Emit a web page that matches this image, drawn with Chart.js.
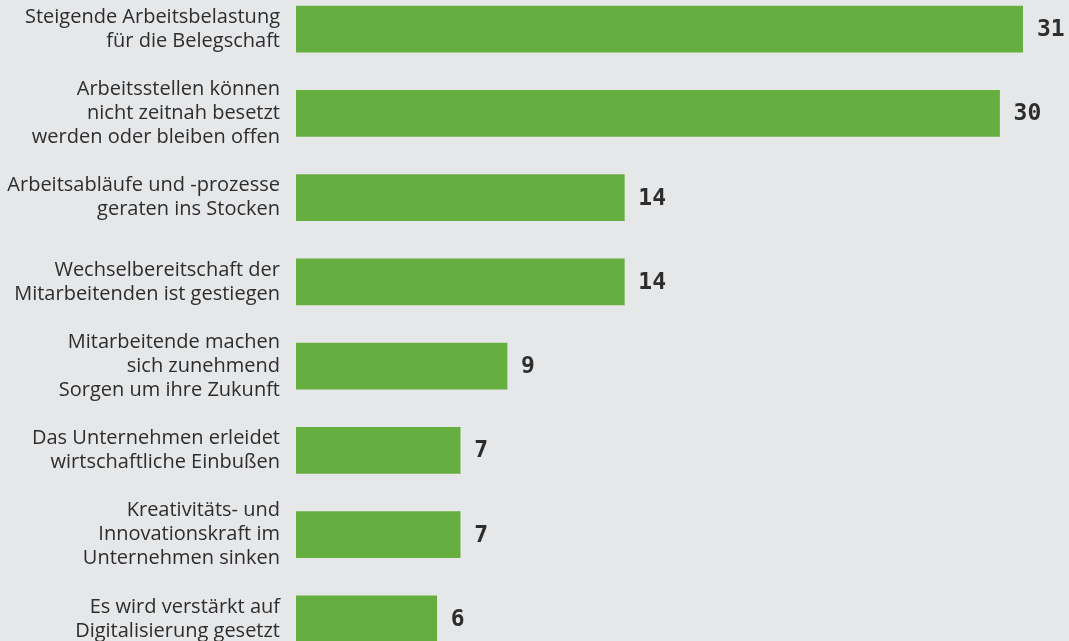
<!DOCTYPE html>
<html>
<head>
<meta charset="utf-8">
<script src="https://cdn.jsdelivr.net/npm/chart.js@4"></script>
<style>
  html, body { margin: 0; padding: 0; overflow: hidden; background: #e6e7e9; }
  #wrap { position: absolute; left: 0; top: -13px; width: 1069px; height: 674px; }
</style>
</head>
<body>
<div id="wrap"><canvas id="chart"></canvas></div>
<script>
const categories = [
  ['Steigende Arbeitsbelastung', 'für die Belegschaft'],
  ['Arbeitsstellen können', 'nicht zeitnah besetzt', 'werden oder bleiben offen'],
  ['Arbeitsabläufe und -prozesse', 'geraten ins Stocken'],
  ['Wechselbereitschaft der', 'Mitarbeitenden ist gestiegen'],
  ['Mitarbeitende machen', 'sich zunehmend', 'Sorgen um ihre Zukunft'],
  ['Das Unternehmen erleidet', 'wirtschaftliche Einbußen'],
  ['Kreativitäts- und', 'Innovationskraft im', 'Unternehmen sinken'],
  ['Es wird verstärkt auf', 'Digitalisierung gesetzt'],
];
const values = [31, 30, 14, 14, 9, 7, 7, 6];

const BAR_GREEN = '#66ae3f';
const TEXT_DARK = '#2d2d2d';

const valueLabels = {
  id: 'valueLabels',
  afterDatasetsDraw(chart) {
    const ctx = chart.ctx;
    const meta = chart.getDatasetMeta(0);
    ctx.save();
    ctx.font = 'bold 23px "DejaVu Sans Mono"';
    ctx.fillStyle = TEXT_DARK;
    ctx.textAlign = 'left';
    ctx.textBaseline = 'middle';
    meta.data.forEach((bar, i) => {
      ctx.fillText(String(values[i]), bar.x + 14, bar.y + 1);
    });
    ctx.restore();
  },
};

const el = document.getElementById('chart');
new Chart(el, {
  type: 'bar',
  data: {
    labels: categories,
    datasets: [{
      data: values,
      backgroundColor: BAR_GREEN,
      borderWidth: 0,
      barThickness: 46,
    }],
  },
  options: {
    indexAxis: 'y',
    responsive: true,
    maintainAspectRatio: false,
    animation: false,
    layout: { padding: { left: 0, right: 46, top: 0, bottom: 0 } },
    plugins: {
      legend: { display: false },
      tooltip: { enabled: false },
    },
    scales: {
      x: { display: false, min: 0, max: 31 },
      y: {
        grid: { display: false, drawTicks: false },
        border: { display: false },
        afterFit: (scale) => {
          scale.width = 296;
          scale.paddingTop = 0;
          scale.paddingBottom = 0;
        },
        ticks: {
          autoSkip: false,
          padding: 16,
          color: TEXT_DARK,
          font: { family: '"Open Sans"', size: 20, lineHeight: 1.2 },
        },
      },
    },
  },
  plugins: [valueLabels],
});
</script>
</body>
</html>
